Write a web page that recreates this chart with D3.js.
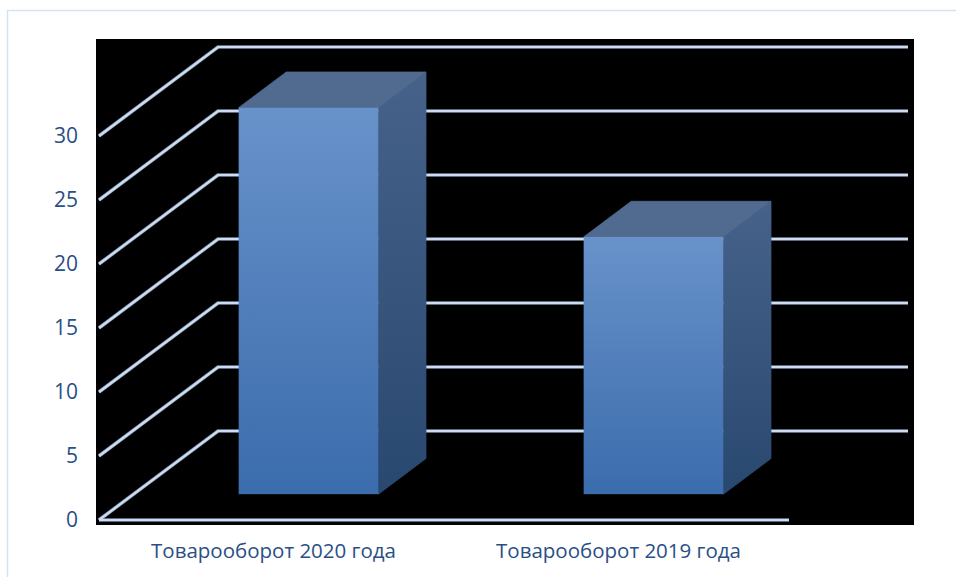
<!DOCTYPE html>
<html lang="ru">
<head>
<meta charset="UTF-8">
<title>Товарооборот</title>
<script src="https://d3js.org/d3.v7.min.js"></script>
<style>
  body { margin: 0; background: #fff; }
  svg { display: block; }
</style>
</head>
<body>
<svg width="956" height="577"></svg>
<script>
  const categories = ["Товарооборот 2020 года", "Товарооборот 2019 года"];
  const values = [30.2, 20.1];
  const tickValues = [0, 5, 10, 15, 20, 25, 30];

  const svg = d3.select("svg");

  // front-left corner of the floor and the depth offset of the 3d box
  const ox = 99, oy = 520;
  const depthX = 119, depthY = -89;
  const frontW = 690;

  const x = d3.scaleBand().domain(categories).range([0, frontW]).padding(0);
  const y = d3.scaleLinear().domain([0, 30]).range([0, 384]);

  // project (x along front, value, depth 0..1) to screen
  const P = (px, v, d) => [ox + px + d * depthX, oy - y(v) + d * depthY];

  // outer frame
  svg.append("rect")
    .attr("x", 7.5).attr("y", 10.5)
    .attr("width", 1000).attr("height", 600)
    .attr("fill", "none")
    .attr("stroke", "#d5e2f3")
    .attr("stroke-width", 1.5);

  // black plot area
  svg.append("rect")
    .attr("x", 96).attr("y", 39)
    .attr("width", 818).attr("height", 486)
    .attr("fill", "#000");

  const grid = svg.append("g");
  const gridPath = v => {
    const a = P(0, v, 0), b = P(0, v, 1), c = P(frontW, v, 1);
    return `M${a}L${b}L${c}`;
  };
  const floorPath = () => {
    const a = P(0, 0, 0), b = P(frontW, 0, 0);
    return `M${a}L${b}`;
  };
  [["#7d8fa8", 3.6], ["#cddcf0", 2.2]].forEach(([col, w]) => {
    grid.selectAll(null)
      .data(tickValues)
      .enter()
      .append("path")
      .attr("d", gridPath)
      .attr("fill", "none")
      .attr("stroke", col)
      .attr("stroke-width", w)
      .attr("stroke-linejoin", "miter");
    grid.append("path")
      .attr("d", floorPath())
      .attr("stroke", col)
      .attr("stroke-width", w);
  });

  // gradients
  const defs = svg.append("defs");
  const grad = (id, c1, c2) => {
    const g = defs.append("linearGradient").attr("id", id)
      .attr("x1", 0).attr("y1", 0).attr("x2", 0).attr("y2", 1);
    g.append("stop").attr("offset", "0%").attr("stop-color", c1);
    g.append("stop").attr("offset", "100%").attr("stop-color", c2);
  };
  grad("front", "#6892ca", "#3b6cac");
  grad("side", "#46628b", "#294870");

  const d0 = 0.29, d1 = 0.69;
  const barFrac = 0.405;
  const barShift = 2.5;

  const bars = svg.append("g");
  categories.forEach((cat, i) => {
    const v = values[i];
    const bw = x.bandwidth() * barFrac;
    const x0 = x(cat) + (x.bandwidth() - bw) / 2 + barShift, x1 = x0 + bw;
    const g = bars.append("g");
    // side face
    g.append("path")
      .attr("d", `M${P(x1, 0, d0)}L${P(x1, v, d0)}L${P(x1, v, d1)}L${P(x1, 0, d1)}Z`)
      .attr("fill", "url(#side)")
      .attr("stroke", "url(#side)")
      .attr("stroke-width", 0.8);
    // top face
    g.append("path")
      .attr("d", `M${P(x0, v, d0)}L${P(x0, v, d1)}L${P(x1, v, d1)}L${P(x1, v, d0)}Z`)
      .attr("fill", "#506a90")
      .attr("stroke", "#506a90")
      .attr("stroke-width", 0.8);
    // front face
    const a = P(x0, v, d0), b = P(x1, 0, d0);
    g.append("rect")
      .attr("x", a[0]).attr("y", a[1])
      .attr("width", b[0] - a[0]).attr("height", b[1] - a[1])
      .attr("fill", "url(#front)");
  });

  // y labels at the front edge
  svg.append("g")
    .selectAll("text")
    .data(tickValues)
    .enter()
    .append("text")
    .attr("x", 78)
    .attr("y", d => P(0, d, 0)[1])
    .attr("dy", "0.35em")
    .attr("text-anchor", "end")
    .attr("font-family", "'Open Sans', sans-serif")
    .attr("font-size", 21)
    .attr("fill", "#2a4f86")
    .text(d => d);

  // category labels
  svg.append("g")
    .selectAll("text")
    .data(categories)
    .enter()
    .append("text")
    .attr("x", d => ox + x(d) + x.bandwidth() / 2 + 2)
    .attr("y", 551)
    .attr("dy", "0.35em")
    .attr("text-anchor", "middle")
    .attr("font-family", "'Open Sans', sans-serif")
    .attr("font-size", 20.5)
    .attr("fill", "#2a4f86")
    .text(d => d);
</script>
</body>
</html>
